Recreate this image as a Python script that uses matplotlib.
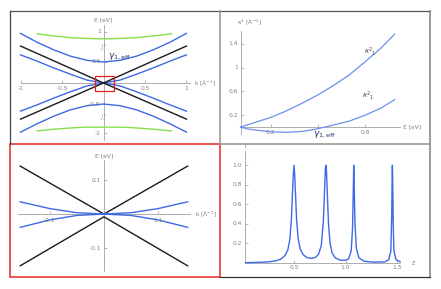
import matplotlib
matplotlib.use('Agg')
import matplotlib.pyplot as plt

W, H = 441, 289

# ---- top-left: bands over the full k range (E axis is broken near +-1)
k_band = [-1.0, -0.8, -0.6, -0.4, -0.2, 0.0, 0.2, 0.4, 0.6, 0.8, 1.0]
E_outer_up = [1.18, 0.97, 0.79, 0.64, 0.54, 0.5, 0.54, 0.64, 0.79, 0.97, 1.18]
E_outer_dn = [-1.17, -0.97, -0.79, -0.64, -0.54, -0.5, -0.54, -0.64, -0.79, -0.97, -1.17]
E_inner_up = [0.67, 0.52, 0.36, 0.21, 0.07, 0.0, 0.07, 0.21, 0.36, 0.52, 0.67]
E_inner_dn = [-0.67, -0.52, -0.36, -0.21, -0.07, 0.0, -0.07, -0.21, -0.36, -0.52, -0.67]
k_dirac = [-1.0, 0.0, 1.0]
E_dirac_up = [0.88, 0.0, 0.88]
E_dirac_dn = [-0.86, 0.0, -0.86]
k_green = [-0.8, -0.6, -0.4, -0.2, 0.0, 0.2, 0.4, 0.6, 0.82]
E_green_up = [1.17, 1.12, 1.08, 1.06, 1.05, 1.06, 1.08, 1.12, 1.17]
E_green_dn = [-1.14, -1.10, -1.07, -1.05, -1.05, -1.05, -1.07, -1.10, -1.14]
tl_xticks = [-1, -0.5, 0.5, 1]
tl_yticks = [1.22, 0.5, -0.5, -1.2]
tl_ylabels = ['1', '0.5', '-0.5', '-1']

# ---- bottom-left: zoom near k = 0
k_zoom = [-0.155, -0.1, -0.05, 0.0, 0.05, 0.1, 0.155]
E_zoom_up = [0.036, 0.016, 0.004, 0.0, 0.004, 0.016, 0.036]
E_zoom_dn = [-0.039, -0.017, -0.004, 0.0, -0.004, -0.017, -0.039]
k_zoom_dirac = [-0.155, 0.0, 0.155]
E_zoom_dirac_up = [0.141, 0.0, 0.141]
E_zoom_dirac_dn = [-0.152, -0.008, -0.152]
bl_xticks = [-0.1, 0.1]
bl_yticks = [0.1, -0.1]

# ---- top-right: kappa^2 vs E
E_kap = [0.01, 0.1, 0.2, 0.3, 0.4, 0.5, 0.6, 0.7, 0.8, 0.9, 0.985]
kap_a = [0.0, 0.075, 0.16, 0.27, 0.40, 0.54, 0.70, 0.88, 1.10, 1.33, 1.56]
E_kap_b = [0.01, 0.05, 0.1, 0.2, 0.3, 0.4, 0.5, 0.545, 0.6, 0.7, 0.8, 0.9, 0.985]
kap_b = [0.0, -0.03, -0.05, -0.08, -0.09, -0.075, -0.03, 0.0, 0.035, 0.10, 0.20, 0.32, 0.46]
tr_xticks = [0.2, 0.5, 0.8]
tr_xlabels = ['0.2', '', '0.8']
tr_yticks = [0.2, 0.6, 1.0, 1.4]
tr_ylabels = ['0.2', '0.6', '1', '1.4']

# ---- bottom-right: transmission T vs epsilon
eps = [0.03, 0.15, 0.25, 0.32, 0.37, 0.41, 0.44, 0.46, 0.475, 0.485, 0.493, 0.5,
       0.507, 0.515, 0.525, 0.54, 0.56, 0.59, 0.63, 0.67, 0.71, 0.74, 0.765, 0.785,
       0.797, 0.805, 0.81, 0.815, 0.823, 0.835, 0.85, 0.87, 0.9, 0.95, 1.0, 1.03,
       1.055, 1.068, 1.075, 1.08, 1.085, 1.092, 1.105, 1.13, 1.18, 1.27, 1.38, 1.42,
       1.44, 1.448, 1.453, 1.455, 1.458, 1.463, 1.47, 1.49, 1.53]
T = [0.0, 0.003, 0.008, 0.018, 0.035, 0.07, 0.13, 0.24, 0.45, 0.7, 0.9, 1.0,
     0.9, 0.7, 0.45, 0.25, 0.14, 0.08, 0.05, 0.045, 0.055, 0.09, 0.18, 0.42,
     0.75, 0.97, 1.0, 0.95, 0.72, 0.4, 0.2, 0.1, 0.05, 0.025, 0.025, 0.04,
     0.12, 0.35, 0.7, 1.0, 0.75, 0.4, 0.15, 0.05, 0.015, 0.005, 0.008, 0.03,
     0.12, 0.45, 0.9, 1.0, 0.85, 0.4, 0.12, 0.03, 0.01]
br_xticks = [0.5, 1.0, 1.5]
br_yticks = [0.2, 0.4, 0.6, 0.8, 1.0]

BLUE = '#3d6ae6'
LBLUE = '#6d8ff0'
GREEN = '#86e04a'
BLACK = '#1a1a1a'
AX = '#a0a0a0'
TXT = '#808080'
NAVY = '#1f2f6a'
FS = 4.3

fig = plt.figure(figsize=(W / 100, H / 100), dpi=100)
fig.patch.set_facecolor('white')


def panel(x0, y0, x1, y1, xlim, ylim):
    ax = fig.add_axes([x0 / W, 1 - y1 / H, (x1 - x0) / W, (y1 - y0) / H])
    ax.set_xlim(xlim)
    ax.set_ylim(ylim)
    ax.axis('off')
    return ax


def axes_lines(ax, xr, yr, x0=0.0, y0=0.0):
    ax.plot(xr, [y0, y0], color=AX, lw=0.6, zorder=1)
    ax.plot([x0, x0], yr, color=AX, lw=0.6, zorder=1)


def xticks(ax, ticks, labels, y0=0.0, dy=-2.5):
    for t, s in zip(ticks, labels):
        ax.plot([t], [y0], marker=2, ms=2, color=AX, mew=0.5)
        if s:
            ax.annotate(s, (t, y0), xytext=(0, dy), textcoords='offset points',
                        ha='center', va='top', fontsize=FS, color=TXT)


def yticks(ax, ticks, labels, x0=0.0, dx=-2.0):
    for t, s in zip(ticks, labels):
        ax.plot([x0], [t], marker=1, ms=2, color=AX, mew=0.5)
        ax.annotate(s, (x0, t), xytext=(dx, 0), textcoords='offset points',
                    ha='right', va='center', fontsize=FS, color=TXT)


# top-left
ax = panel(10, 11, 220, 144, (-1.127, 1.404), (-1.452, 1.714))
axes_lines(ax, [-1.0, 1.04], [-1.36, 1.38])
xticks(ax, tl_xticks, ['-1', '-0.5', '0.5', '1'])
yticks(ax, tl_yticks, tl_ylabels)
ax.text(1.09, 0, r'k [Å$^{-1}$]', fontsize=FS, color=TXT, va='center')
ax.text(0, 1.45, 'E [eV]', fontsize=FS, color=TXT, ha='center', va='bottom')
for yb in (0.86, -0.81):
    ax.text(0, yb, '//', fontsize=5, color=AX, ha='center', va='center')
for e in (E_outer_up, E_outer_dn, E_inner_up, E_inner_dn):
    ax.plot(k_band, e, color=BLUE, lw=1.0)
ax.plot(k_dirac, E_dirac_up, color=BLACK, lw=1.0)
ax.plot(k_dirac, E_dirac_dn, color=BLACK, lw=1.0)
ax.plot(k_green, E_green_up, color=GREEN, lw=1.0)
ax.plot(k_green, E_green_dn, color=GREEN, lw=1.0)
ax.add_patch(plt.Rectangle((-0.102, -0.19), 0.229, 0.357, fill=False,
                           ec='#e02020', lw=0.9, zorder=5))
ax.text(0.06, 0.62, r'$\gamma_{1,\mathrm{eff}}$', fontsize=6.5, color=NAVY,
        va='center')

# bottom-left
ax = panel(10, 144, 220, 277, (-0.174, 0.215), (-0.185, 0.206))
axes_lines(ax, [-0.16, 0.16], [-0.168, 0.158])
xticks(ax, bl_xticks, ['-0.1', '0.1'])
yticks(ax, bl_yticks, ['0.1', '-0.1'])
ax.text(0.168, 0, r'k [Å$^{-1}$]', fontsize=FS, color=TXT, va='center')
ax.text(0, 0.163, 'E [eV]', fontsize=FS, color=TXT, ha='center', va='bottom')
ax.plot(k_zoom_dirac, E_zoom_dirac_up, color=BLACK, lw=1.0)
ax.plot(k_zoom_dirac, E_zoom_dirac_dn, color=BLACK, lw=1.0)
ax.plot(k_zoom, E_zoom_up, color=BLUE, lw=1.0)
ax.plot(k_zoom, E_zoom_dn, color=BLUE, lw=1.0)

# top-right
ax = panel(220, 11, 430, 144, (-0.12, 1.209), (-0.286, 1.95))
axes_lines(ax, [0.01, 1.02], [-0.12, 1.61], x0=0.01)
xticks(ax, tr_xticks, tr_xlabels, dy=-2.0)
yticks(ax, tr_yticks, tr_ylabels, x0=0.01)
ax.text(1.04, 0, 'E [eV]', fontsize=FS, color=TXT, va='center')
ax.text(-0.01, 1.68, r'$\kappa^2$ [Å$^{-2}$]', fontsize=FS, color=TXT,
        ha='left', va='bottom')
ax.plot(E_kap, kap_a, color=LBLUE, lw=0.9)
ax.plot(E_kap_b, kap_b, color=LBLUE, lw=0.9)
ax.text(0.83, 1.27, r'$\kappa^2{}_1$', fontsize=5, color='#444444',
        ha='center', va='center')
ax.text(0.82, 0.53, r'$\kappa^2{}_1$', fontsize=5, color='#444444',
        ha='center', va='center')
ax.text(0.54, -0.13, r'$\gamma_{1,\mathrm{eff}}$', fontsize=6.5, color=NAVY,
        ha='center', va='center')

# bottom-right
ax = panel(220, 144, 430, 277, (-0.218, 1.82), (-0.147, 1.218))
axes_lines(ax, [0.025, 1.53], [0.0, 1.15], x0=0.025)
xticks(ax, br_xticks, ['0.5', '1.0', '1.5'], dy=-2.0)
yticks(ax, br_yticks, ['0.2', '0.4', '0.6', '0.8', '1.0'], x0=0.025)
ax.text(1.64, 0, r'$\varepsilon$', fontsize=FS + 0.5, color=TXT, va='center')
ax.text(0.025, 1.17, 'T', fontsize=FS, color=TXT, ha='center', va='bottom')
ax.plot(eps, T, color=BLUE, lw=1.0)

# frames
ov = fig.add_axes([0, 0, 1, 1], zorder=10)
ov.set_xlim(0, W)
ov.set_ylim(H, 0)
ov.axis('off')
ov.patch.set_alpha(0)
ov.plot([10, 430], [11, 11], color='#555555', lw=0.9)
ov.plot([10, 10], [11, 144], color='#444444', lw=0.9)
ov.plot([220, 220], [11, 144], color='#9a9a9a', lw=1.2)
ov.plot([430, 430], [11, 277], color='#8a8a8a', lw=1.2)
ov.plot([220, 430], [144, 144], color='#9a9a9a', lw=1.2)
ov.plot([220, 430], [277, 277], color='#333333', lw=0.9)
ov.add_patch(plt.Rectangle((10, 144), 210, 133, fill=False, ec='#e32424', lw=1.1))

fig.savefig('out.png', dpi=100, facecolor='white')
